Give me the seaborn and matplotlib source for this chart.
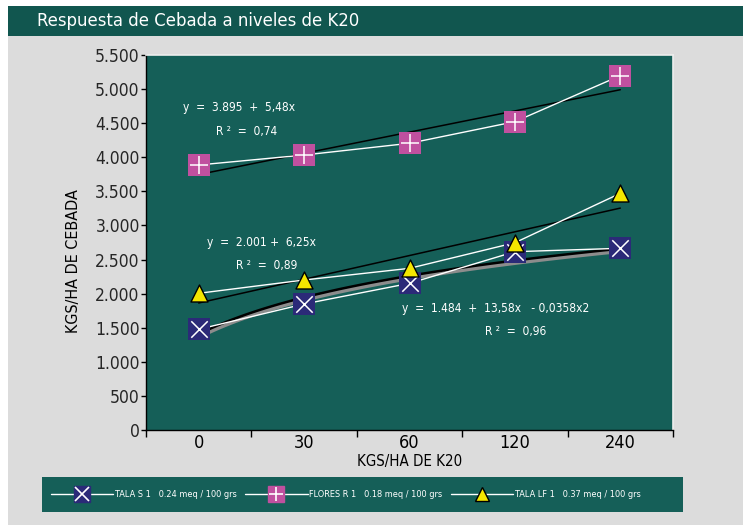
import numpy as np
import pandas as pd
import matplotlib
matplotlib.use("Agg")
import matplotlib.pyplot as plt
import matplotlib.patheffects as pe
from matplotlib.lines import Line2D
from matplotlib.patches import Rectangle
import seaborn as sns

# ---------------- data ----------------
categories = ["0", "30", "60", "120", "240"]
tala_s1 = [1477, 1848, 2151, 2615, 2665]
flores_r1 = [3887, 4033, 4205, 4522, 5197]
tala_lf1 = [2005, 2200, 2371, 2747, 3471]
y_ticks = [0, 500, 1000, 1500, 2000, 2500, 3000, 3500, 4000, 4500, 5000, 5500]
y_tick_labels = ["0", "500", "1.000", "1.500", "2.000", "2.500", "3.000",
                 "3.500", "4.000", "4.500", "5.000", "5.500"]
legend_labels = ["TALA S 1   0.24 meq / 100 grs",
                 "FLORES R 1   0.18 meq / 100 grs",
                 "TALA LF 1   0.37 meq / 100 grs"]
title = "Respuesta de Cebada a niveles de K20"
xlabel = "KGS/HA DE K20"
ylabel = "KGS/HA DE CEBADA"
eq_flores = ["y  =  3.895  +  5,48x", "R ²  =  0,74"]
eq_lf = ["y  =  2.001 +  6,25x", "R ²  =  0,89"]
eq_s1 = ["y  =  1.484  +  13,58x   - 0,0358x2", "R ²  =  0,96"]

pos = np.arange(1, len(categories) + 1)
df = pd.DataFrame({"pos": pos, "s1": tala_s1, "fl": flores_r1, "lf": tala_lf1})

# ---------------- style ----------------
sns.set_theme(style="white")
plt.rcParams["font.family"] = ["DejaVu Sans"]
plt.rcParams["font.stretch"] = "condensed"

TEAL_PLOT = "#155f58"
TEAL_BAR = "#11564f"
GRAY = "#dcdcdc"
BLUE = "#2b2a78"
PINK = "#c0509f"
YELLOW = "#f4e600"

fig = plt.figure(figsize=(7.43, 5.25), dpi=100, facecolor="white")
W, H = 743, 525
fig.patches.append(Rectangle((8 / W, 0), 1, 1 - 36 / H, transform=fig.transFigure,
                             facecolor=GRAY, edgecolor="none", zorder=-10))
fig.patches.append(Rectangle((8 / W, 1 - 36 / H), 1, 30 / H, transform=fig.transFigure,
                             facecolor=TEAL_BAR, edgecolor="none", zorder=-10))
# legend panel
fig.patches.append(Rectangle((42 / W, 1 - 512 / H), (683 - 42) / W, 35 / H,
                             transform=fig.transFigure, facecolor=TEAL_PLOT,
                             edgecolor="none", zorder=-5))
fig.text(37 / W, 1 - 21 / H, title, color="white", fontsize=13.2,
         va="center", ha="left")

ax = fig.add_axes([146 / W, 1 - 430 / H, (673 - 146) / W, (430 - 55) / H])
ax.set_facecolor(TEAL_PLOT)

# trend lines (fit on category position, as in the original spreadsheet)
sns.regplot(data=df, x="pos", y="fl", order=1, ci=None, scatter=False, ax=ax,
            line_kws=dict(color="black", lw=1.1, zorder=2))
sns.regplot(data=df, x="pos", y="lf", order=1, ci=None, scatter=False, ax=ax,
            line_kws=dict(color="black", lw=1.1, zorder=2))
sns.regplot(data=df, x="pos", y="s1", logx=True, ci=None, scatter=False, ax=ax,
            line_kws=dict(color="black", lw=1.8, zorder=2,
                          path_effects=[pe.SimpleLineShadow(offset=(0.8, -1.6),
                                                            shadow_color="#8c8c8c",
                                                            alpha=1, linewidth=3),
                                        pe.Normal()]))

# series lines
for col in ["s1", "fl", "lf"]:
    sns.lineplot(data=df, x="pos", y=col, color="white", lw=1.0, ax=ax, zorder=3)

# markers
sns.scatterplot(data=df, x="pos", y="s1", marker="s", s=230, color=BLUE,
                edgecolor=BLUE, linewidth=0, ax=ax, zorder=4)
sns.scatterplot(data=df, x="pos", y="s1", marker="x", s=140, color="white",
                linewidth=1.1, ax=ax, zorder=5)
sns.scatterplot(data=df, x="pos", y="fl", marker="s", s=230, color=PINK,
                edgecolor=PINK, linewidth=0, ax=ax, zorder=4)
sns.scatterplot(data=df, x="pos", y="fl", marker="+", s=160, color="white",
                linewidth=1.1, ax=ax, zorder=5)
sns.scatterplot(data=df, x="pos", y="lf", marker="^", s=150, color=YELLOW,
                edgecolor="black", linewidth=1.0, ax=ax, zorder=6)

# equations
txt_kw = dict(color="white", fontsize=8.6, va="center", ha="left", zorder=7)
ax.text(0.85, 4737, eq_flores[0], **txt_kw)
ax.text(1.16, 4385, eq_flores[1], **txt_kw)
ax.text(1.08, 2743, eq_lf[0], **txt_kw)
ax.text(1.35, 2420, eq_lf[1], **txt_kw)
ax.text(2.93, 1789, eq_s1[0], **txt_kw)
ax.text(3.72, 1452, eq_s1[1], **txt_kw)

# axes
ax.set_xlim(0.5, len(categories) + 0.5)
ax.set_ylim(0, 5500)
ax.set_xticks(pos)
ax.set_xticklabels(categories)
ax.set_xticks(np.arange(0.5, len(categories) + 1, 1.0), minor=True)
ax.set_yticks(y_ticks)
ax.set_yticklabels(y_tick_labels)
ax.tick_params(axis="x", which="major", length=0, pad=3, labelsize=13, colors="black")
ax.tick_params(axis="x", which="minor", length=5, width=1, direction="out",
               color="black", bottom=True)
ax.tick_params(axis="y", length=3.5, width=1, direction="out", color="black",
               left=True, labelsize=12.5, pad=1)
ax.set_xlabel(xlabel, fontsize=10.8, color="black", labelpad=0)
ax.xaxis.set_label_coords(0.5, -0.085, transform=ax.transAxes)
ax.xaxis.label.set_va("center")
ax.set_ylabel(ylabel, fontsize=11.5, color="black")
ax.yaxis.set_label_coords(-0.137, 0.45, transform=ax.transAxes)
ax.yaxis.label.set_va("center")
ax.grid(False)
for s in ["left", "bottom"]:
    ax.spines[s].set_color("black")
    ax.spines[s].set_linewidth(1)
for s in ["top", "right"]:
    ax.spines[s].set_color("#eeeeee")
    ax.spines[s].set_linewidth(1.2)

# legend
def sq(color, mk, mkcolor):
    base = Line2D([], [], color="white", lw=1.0, marker="s", markersize=12,
                  markerfacecolor=color, markeredgecolor=color)
    over = Line2D([], [], color="none", marker=mk, markersize=10,
                  markeredgecolor=mkcolor, markeredgewidth=1.2, linestyle="none")
    return (base, over)

h1 = sq(BLUE, "x", "white")
h2 = sq(PINK, "+", "white")
h3 = Line2D([], [], color="white", lw=1.0, marker="^", markersize=10,
            markerfacecolor=YELLOW, markeredgecolor="black")
leg = fig.legend([h1, h2, h3], legend_labels, loc="center left",
                 bbox_to_anchor=(51 / W, 1 - 494.5 / H),
                 ncol=3, frameon=False, borderpad=0, borderaxespad=0,
                 handlelength=6.8, handletextpad=0.2,
                 columnspacing=0.9, fontsize=6.6, labelcolor="white")

fig.savefig("out.png", dpi=100, facecolor=fig.get_facecolor())
